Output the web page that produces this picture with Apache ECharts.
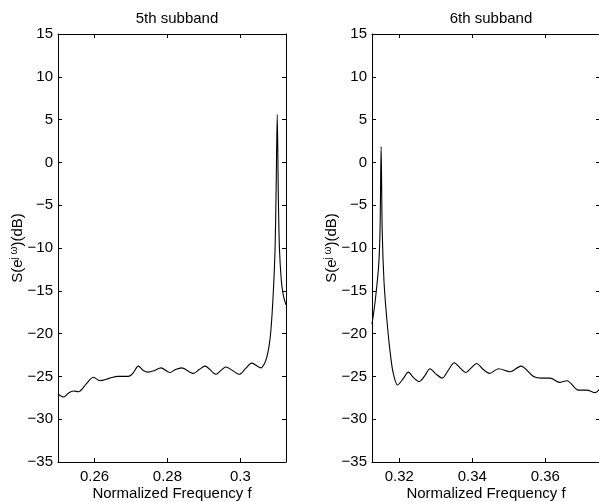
<!DOCTYPE html>
<html>
<head>
<meta charset="utf-8">
<script src="https://cdn.jsdelivr.net/npm/echarts@6/dist/echarts.min.js"></script>
<style>
html,body{margin:0;padding:0;background:#fff;}
#c{width:599px;height:502px;}
</style>
</head>
<body>
<div id="c"></div>
<script>
// ---- data ----
const titles = ['5th subband', '6th subband'];
const xAxisLabel = 'Normalized Frequency f';
const leftXRange = [0.25, 0.3125];
const rightXRange = [0.3125, 0.375];
const leftTicks = [0.26, 0.28, 0.30];
const rightTicks = [0.32, 0.34, 0.36];
const yRange = [-35, 15];

const leftFreq = [0.2500,0.2515,0.2530,0.2542,0.2556,0.2577,0.2597,0.2615,0.2642,0.2665,0.2693,0.2706,0.2720,0.2734,0.2747,0.2765,0.2782,0.2807,0.2822,0.2839,0.2871,0.2887,0.2903,0.2933,0.2947,0.2960,0.2997,0.3014,0.3031,0.3056,0.3066,0.3072,0.3078,0.3083,0.3087,0.3091,0.3095,0.3098,0.3101,0.3104,0.3107,0.3112,0.3118,0.3125];
const leftDb = [-27.05,-27.4,-26.9,-26.7,-26.8,-25.9,-25.1,-25.5,-25.2,-25.0,-25.0,-24.6,-23.8,-24.3,-24.5,-24.3,-24.0,-24.55,-24.2,-24.0,-24.65,-24.2,-23.8,-24.75,-24.3,-23.9,-24.75,-24.1,-23.45,-24.0,-23.5,-22.8,-21.6,-19.9,-17.6,-14.5,-10.2,-3.0,5.6,-4.0,-10.0,-13.7,-15.6,-16.65];

const rightFreq = [0.3125,0.3134,0.3143,0.3147,0.3150,0.3153,0.3158,0.3165,0.3174,0.3183,0.3195,0.3210,0.32245,0.3240,0.32546,0.3270,0.32839,0.3300,0.33176,0.3334,0.33505,0.3366,0.33825,0.3397,0.34116,0.3430,0.34472,0.34718,0.35039,0.35332,0.35677,0.35907,0.36135,0.3639,0.36592,0.3691,0.3714,0.3737,0.3750];
const rightDb = [-18.9,-16.1,-12.2,-8.0,1.84,-8.0,-14.0,-18.0,-21.9,-24.6,-26.0,-25.3,-24.5,-25.2,-25.6,-24.9,-24.1,-24.7,-25.2,-24.3,-23.4,-24.0,-24.55,-24.0,-23.5,-24.2,-24.65,-24.1,-24.45,-23.8,-25.0,-25.2,-25.2,-25.7,-25.5,-26.6,-26.6,-26.9,-26.4];

// ---- chart ----
const FONT = 'Liberation Sans, Arial, Helvetica, sans-serif';
const FS = 15;
const chart = echarts.init(document.getElementById('c'), null, {renderer: 'canvas'});
const grids = [
  {left: 58, top: 34, width: 228, height: 428, containLabel: false, outerBoundsMode: 'none'},
  {left: 372, top: 34, width: 228, height: 428, containLabel: false, outerBoundsMode: 'none'}
];
const minus = v => String(v).replace('-', '\u2212');
const fmtX = v => String(+(+v).toFixed(4));

function xAxes(gi, range, ticks) {
  const base = {
    type: 'value', gridIndex: gi, min: range[0], max: range[1],
    axisLine: {show: true, onZero: false, lineStyle: {color: '#000', width: 1}},
    splitLine: {show: false}
  };
  return [
    Object.assign({}, base, {
      position: 'bottom',
      axisTick: {show: true, inside: true, length: 4, customValues: ticks, lineStyle: {color: '#000'}},
      axisLabel: {show: true, customValues: ticks, formatter: fmtX, color: '#000', fontFamily: FONT, fontSize: FS, margin: 7},
      name: xAxisLabel, nameLocation: 'middle', nameGap: 24, nameMoveOverlap: false,
      nameTextStyle: {color: '#000', fontFamily: FONT, fontSize: FS}
    }),
    Object.assign({}, base, {
      position: 'top',
      axisTick: {show: true, inside: true, length: 4, customValues: ticks, lineStyle: {color: '#000'}},
      axisLabel: {show: false}
    })
  ];
}
function yAxes(gi) {
  const base = {
    type: 'value', gridIndex: gi, min: yRange[0], max: yRange[1], interval: 5,
    axisLine: {show: true, onZero: false, lineStyle: {color: '#000', width: 1}},
    axisTick: {show: true, inside: true, length: 4, lineStyle: {color: '#000'}},
    splitLine: {show: false}
  };
  return [
    Object.assign({}, base, {
      position: 'left',
      axisLabel: {show: true, formatter: minus, color: '#000', fontFamily: FONT, fontSize: FS, margin: 5},
      name: 'S(e{sup|j \u03c9})(dB)', nameLocation: 'middle', nameGap: 31, nameMoveOverlap: false,
      nameTextStyle: {
        color: '#000', fontFamily: FONT, fontSize: FS,
        rich: {sup: {fontSize: 10, fontFamily: FONT, color: '#000', padding: [0, 0, 8, 0], verticalAlign: 'bottom'}}
      }
    }),
    Object.assign({}, base, {position: 'right', axisLabel: {show: false}})
  ];
}

const option = {
  backgroundColor: '#fff',
  animation: false,
  title: [
    {text: titles[0], left: 172, top: 6, textAlign: 'center', textStyle: {fontWeight: 'normal', fontFamily: FONT, fontSize: FS, color: '#000'}},
    {text: titles[1], left: 486, top: 6, textAlign: 'center', textStyle: {fontWeight: 'normal', fontFamily: FONT, fontSize: FS, color: '#000'}}
  ],
  grid: grids,
  xAxis: [].concat(xAxes(0, leftXRange, leftTicks), xAxes(1, rightXRange, rightTicks)),
  yAxis: [].concat(yAxes(0), yAxes(1)),
  series: [
    {type: 'line', xAxisIndex: 0, yAxisIndex: 0, data: leftFreq.map((f, i) => [f, leftDb[i]]),
     showSymbol: false, smooth: 0.3, lineStyle: {color: '#000', width: 1.1}, clip: true},
    {type: 'line', xAxisIndex: 2, yAxisIndex: 2, data: rightFreq.map((f, i) => [f, rightDb[i]]),
     showSymbol: false, smooth: 0.3, lineStyle: {color: '#000', width: 1.1}, clip: true}
  ]
};
chart.setOption(option);
</script>
</body>
</html>
